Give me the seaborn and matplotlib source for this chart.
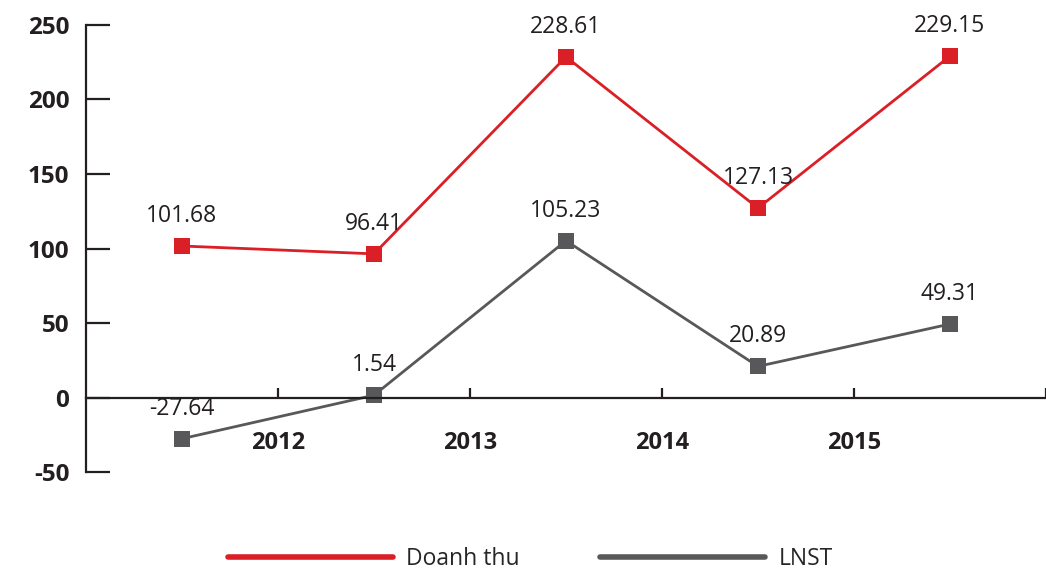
import numpy as np
import pandas as pd
import matplotlib
matplotlib.use('Agg')
import matplotlib.pyplot as plt
from matplotlib.lines import Line2D
import seaborn as sns

# Dữ liệu
nam = ['2012', '2013', '2014', '2015']
doanh_thu = [101.68, 96.41, 228.61, 127.13, 229.15]
lnst = [-27.64, 1.54, 105.23, 20.89, 49.31]

df = pd.DataFrame({'diem': np.arange(len(doanh_thu)),
                   'Doanh thu': doanh_thu,
                   'LNST': lnst})

sns.set_style('ticks')
plt.rcParams['font.family'] = ['Open Sans', 'DejaVu Sans']
plt.rcParams['axes.unicode_minus'] = False

do = '#DA1F26'
xam = '#58585A'
den = '#231F20'

fig = plt.figure(figsize=(10.46, 5.72), dpi=100)
ax = fig.add_axes([0.0822, 0.1748, 0.9178, 0.7815])

sns.lineplot(data=df, x='diem', y='Doanh thu', color=do, lw=2, marker='s',
             markersize=12, markeredgewidth=0, ax=ax)
sns.lineplot(data=df, x='diem', y='LNST', color=xam, lw=2, marker='s',
             markersize=12, markeredgewidth=0, ax=ax)

for col in ['Doanh thu', 'LNST']:
    for x, y in zip(df['diem'], df[col]):
        ax.annotate(f'{y:.2f}', (x, y), xytext=(0, 13), textcoords='offset points',
                    ha='center', va='bottom', fontsize=16.5, color=den)

ax.set_xlim(-0.5, len(doanh_thu) - 0.5)
ax.set_ylim(-50, 250)
ax.set_yticks(range(-50, 251, 50))

ax.set_xticks(np.arange(len(doanh_thu)) + 0.5)
ax.set_xticklabels(nam + [''])

ax.spines['top'].set_visible(False)
ax.spines['right'].set_visible(False)
ax.spines['bottom'].set_position(('data', 0))
ax.spines['left'].set_linewidth(1.6)
ax.spines['bottom'].set_linewidth(1.6)
ax.spines['left'].set_color(den)
ax.spines['bottom'].set_color(den)

ax.tick_params(axis='y', direction='in', length=17, width=1.6, color=den,
               labelsize=17.5, labelcolor=den, pad=12)
ax.tick_params(axis='x', direction='in', length=7, width=1.6, color=den,
               labelsize=17, labelcolor=den, pad=24)
plt.setp(ax.get_xticklabels() + ax.get_yticklabels(), fontweight='bold')
ax.set_xlabel('')
ax.set_ylabel('')

handles = [Line2D([], [], color=do, lw=4),
           Line2D([], [], color=xam, lw=4, solid_capstyle='round')]
fig.legend(handles, ['Doanh thu', 'LNST'], loc='lower center', ncol=2,
           bbox_to_anchor=(0.507, -0.034), frameon=False, fontsize=16.5,
           handlelength=7.2, handletextpad=0.6, columnspacing=3.5)

fig.savefig('out.png', dpi=100)
